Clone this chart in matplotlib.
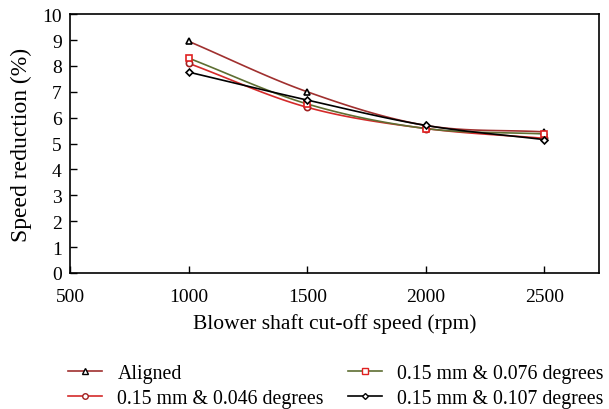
import numpy as np
import matplotlib
matplotlib.use("Agg")
import matplotlib.pyplot as plt
from matplotlib.lines import Line2D

speeds = [1000, 1500, 2000, 2500]
aligned = [8.95, 7.00, 5.70, 5.45]
deg_046 = [8.10, 6.40, 5.58, 5.20]
deg_076 = [8.30, 6.53, 5.58, 5.37]
deg_107 = [7.76, 6.68, 5.70, 5.15]
labels = ["Aligned", "0.15 mm & 0.046 degrees", "0.15 mm & 0.076 degrees", "0.15 mm & 0.107 degrees"]
yticks = list(range(0, 11))
xticks = [500, 1000, 1500, 2000, 2500]

plt.rcParams['font.family'] = ['Liberation Serif', 'DejaVu Serif']


def smooth(x, y, n=30):
    x = np.asarray(x, float); y = np.asarray(y, float)
    px = np.concatenate([[2 * x[0] - x[1]], x, [2 * x[-1] - x[-2]]])
    py = np.concatenate([[2 * y[0] - y[1]], y, [2 * y[-1] - y[-2]]])
    xs, ys = [], []
    t = np.linspace(0, 1, n)
    for i in range(1, len(px) - 2):
        for p, out in ((px, xs), (py, ys)):
            p0, p1, p2, p3 = p[i - 1], p[i], p[i + 1], p[i + 2]
            out.extend(0.5 * ((2 * p1) + (-p0 + p2) * t + (2 * p0 - 5 * p1 + 4 * p2 - p3) * t ** 2
                              + (-p0 + 3 * p1 - 3 * p2 + p3) * t ** 3))
    return xs, ys


fig = plt.figure(figsize=(6.09, 4.10), dpi=100)
ax = fig.add_axes([0.115, 0.332, 0.8686, 0.631])

series = [
    (aligned, '#a0302f', '^', 'black', 'white'),
    (deg_046, '#d42a2a', 'o', '#a02020', 'white'),
    (deg_076, '#5e6e32', 's', '#e02020', 'white'),
    (deg_107, '#000000', 'D', 'black', 'white'),
]
handles = []
for (vals, lc, mk, mec, mfc), lab in zip(series, labels):
    sx, sy = smooth(speeds, vals)
    ax.plot(sx, sy, color=lc, lw=1.2, zorder=2)
    ms = 4.5 if mk != 'D' else 3.5
    ax.plot(speeds, vals, ls='none', marker=mk, ms=ms, mec=mec, mfc=mfc, mew=1.2, zorder=3)
    handles.append(Line2D([], [], color=lc, lw=1.2, marker=mk, ms=ms - 0.5, mec=mec, mfc=mfc, mew=1.0))

ax.set_xlim(500, 2730)
ax.set_ylim(0, 10)
ax.set_xticks(xticks)
ax.set_yticks(yticks)
ax.tick_params(axis='x', direction='in', length=5, width=1, labelsize=14, pad=11)
ax.tick_params(axis='y', direction='in', length=5, width=1, labelsize=14, pad=6)
for s in ax.spines.values():
    s.set_linewidth(1.2)
ax.set_xlabel("Blower shaft cut-off speed (rpm)", fontsize=15.5, labelpad=6)
ax.set_ylabel("Speed reduction (%)", fontsize=17, labelpad=7)

fig.legend(handles, labels, ncol=2, frameon=False,
           loc='upper left', bbox_to_anchor=(0.112, 0.11), fontsize=14.3, handlelength=1.7,
           columnspacing=1.2, labelspacing=0.3, handletextpad=0.78, borderpad=0,
           borderaxespad=0)

fig.savefig("out.png", dpi=100)
